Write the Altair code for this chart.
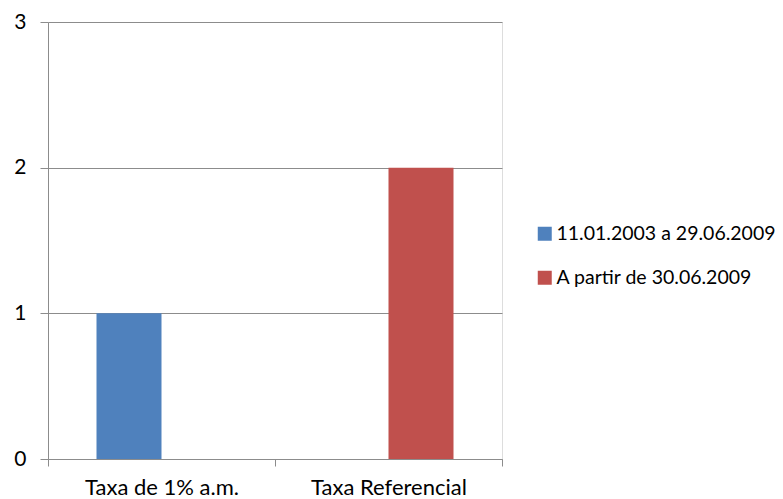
import altair as alt
import pandas as pd

# Rate applied in each period
categories = ["Taxa de 1% a.m.", "Taxa Referencial"]
series = ["11.01.2003 a 29.06.2009", "A partir de 30.06.2009"]
values = [1, 2]
colors = ["#4F81BD", "#C0504D"]

df = pd.DataFrame({"categoria": categories, "periodo": series, "valor": values})

FONT = "Lato"
GRID = "#8C8C8C"

bars = alt.Chart(df).mark_bar(size=65).encode(
    x=alt.X(
        "categoria:N",
        sort=categories,
        scale=alt.Scale(paddingInner=0, paddingOuter=0),
        axis=alt.Axis(
            title=None, labelAngle=0, tickBand="extent", tickSize=7,
            domainColor=GRID, tickColor=GRID, labelFontSize=22,
            labelColor="#000000", labelPadding=11, labelFont=FONT,
            labelLimit=0,
        ),
    ),
    xOffset=alt.XOffset(
        "periodo:N",
        scale=alt.Scale(domain=series, paddingOuter=0.746, paddingInner=0),
    ),
    y=alt.Y(
        "valor:Q",
        scale=alt.Scale(domain=[0, 3], nice=False),
        axis=alt.Axis(
            title=None, values=[0, 1, 2, 3], format="d", tickSize=8,
            domainColor=GRID, tickColor=GRID, gridColor=GRID,
            labelFontSize=21, labelColor="#000000", labelPadding=14,
            labelFont=FONT,
        ),
    ),
    color=alt.Color(
        "periodo:N",
        scale=alt.Scale(domain=series, range=colors),
        legend=alt.Legend(
            title=None, orient="none", legendX=487, legendY=202,
            symbolType="square", symbolSize=196, symbolStrokeWidth=0,
            labelFontSize=19.5, labelFont=FONT, labelColor="#000000",
            labelOffset=2, rowPadding=23, labelLimit=0,
        ),
    ),
)

chart = bars.properties(
    width=454,
    height=437,
    autosize=alt.AutoSizeParams(type="none"),
    padding={"left": 48, "top": 22, "right": 281, "bottom": 40},
).configure_view(stroke=GRID, strokeWidth=1).configure(background="#FFFFFF")

chart.save("out.html", embed_options={"renderer": "svg", "actions": False})
